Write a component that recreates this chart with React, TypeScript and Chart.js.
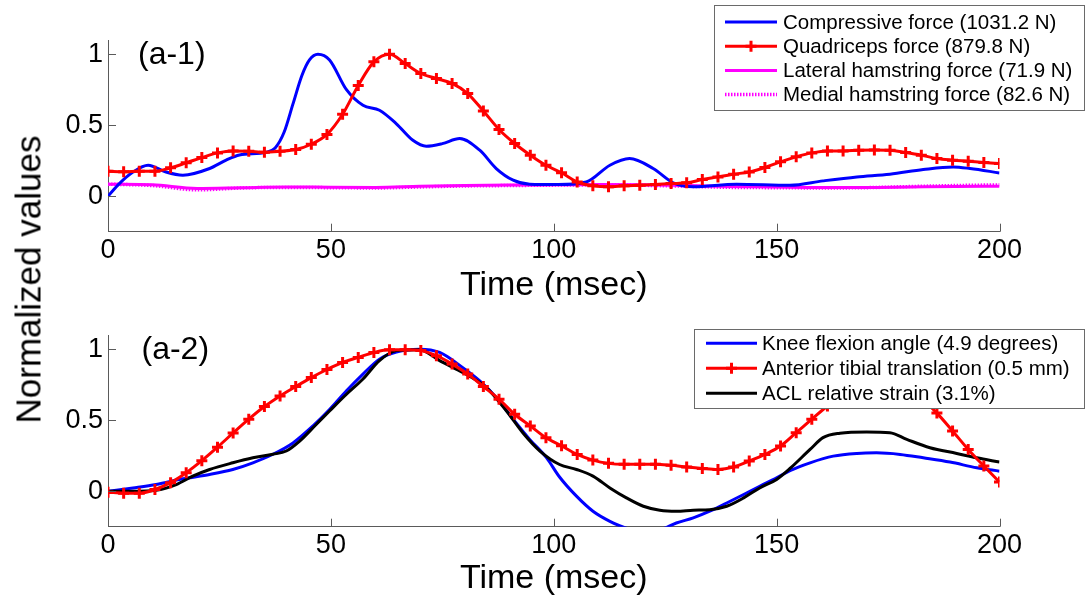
import React, { useEffect, useRef } from 'react';
import { Chart, registerables } from 'chart.js';

Chart.register(...registerables);

const FONT = '"Liberation Sans", Arial, Helvetica, sans-serif';
const AXIS_COLOR = '#5a5a5a';

// ---------- ticks ----------
const xTickValues = [0, 50, 100, 150, 200];
const yTickValues = [0, 0.5, 1];
const xTitle = 'Time (msec)';
const yTitle = 'Normalized values';

// ---------- marker times (red series) ----------
const markerTimes = [
  0, 3.51, 7.02, 10.53, 14.04, 17.54, 21.05, 24.56, 28.07, 31.58, 35.09, 38.6, 42.11, 45.61, 49.12,
  52.63, 56.14, 59.65, 63.16, 66.67, 70.18, 73.68, 77.19, 80.7, 84.21, 87.72, 91.23, 94.74, 98.25,
  101.75, 105.26, 108.77, 112.28, 115.79, 119.3, 122.81, 126.32, 129.82, 133.33, 136.84, 140.35,
  143.86, 147.37, 150.88, 154.39, 157.89, 161.4, 164.91, 168.42, 171.93, 175.44, 178.95, 182.46,
  185.96, 189.47, 192.98, 196.49, 200,
];

// ---------- panel (a-1) ----------
const compressiveLabel = 'Compressive force (1031.2 N)';
const compressiveT = [
  0, 2.6, 5.6, 9, 13, 16.8, 22.8, 26.5, 29.5, 35.5, 37.5, 39.5, 41.5, 43.5, 45.2, 47.1, 49.7, 53.5,
  57.2, 60.9, 64.7, 68.4, 71.4, 75, 78.9, 83.4, 87.1, 90.9, 94.6, 101, 107.3, 112.6, 117, 122.3,
  126.8, 131.3, 141, 153, 160.4, 168, 175.4, 182.9, 189.6, 193.4, 200,
];
const compressiveV = [
  0, 0.09, 0.17, 0.218, 0.17, 0.148, 0.195, 0.254, 0.29, 0.31, 0.34, 0.45, 0.65, 0.85, 0.96, 1.0,
  0.96, 0.75, 0.64, 0.605, 0.51, 0.394, 0.352, 0.37, 0.406, 0.324, 0.195, 0.113, 0.085, 0.082, 0.1,
  0.218, 0.265, 0.195, 0.094, 0.066, 0.085, 0.077, 0.108, 0.136, 0.155, 0.188, 0.206, 0.195, 0.164,
];

const quadricepsLabel = 'Quadriceps force (879.8 N)';
const quadricepsV = [
  0.176, 0.172, 0.176, 0.176, 0.2, 0.235, 0.272, 0.305, 0.319, 0.317, 0.31, 0.317, 0.329, 0.366,
  0.435, 0.577, 0.78, 0.946, 1.0, 0.934, 0.864, 0.829, 0.794, 0.723, 0.6, 0.47, 0.371, 0.289, 0.218,
  0.165, 0.1, 0.073, 0.066, 0.073, 0.077, 0.082, 0.089, 0.094, 0.117, 0.136, 0.155, 0.171, 0.202,
  0.242, 0.277, 0.305, 0.319, 0.319, 0.324, 0.326, 0.324, 0.308, 0.289, 0.265, 0.254, 0.246, 0.237,
  0.23,
];

const hamT = [0, 10, 20, 30, 40, 50, 60, 70, 80, 90, 100, 110, 120, 130, 140, 150, 160, 170, 180, 190, 200];
const lateralLabel = 'Lateral hamstring force (71.9 N)';
const lateralV = [
  0.085, 0.08, 0.055, 0.06, 0.065, 0.063, 0.062, 0.07, 0.075, 0.078, 0.08, 0.082, 0.08, 0.075,
  0.068, 0.065, 0.062, 0.062, 0.065, 0.068, 0.07,
];
const medialLabel = 'Medial hamstring force (82.6 N)';
const medialV = [
  0.085, 0.075, 0.045, 0.058, 0.062, 0.06, 0.058, 0.065, 0.072, 0.075, 0.078, 0.08, 0.077, 0.07,
  0.062, 0.06, 0.058, 0.06, 0.068, 0.075, 0.08,
];

// ---------- panel (a-2) ----------
const kneeLabel = 'Knee flexion angle (4.9 degrees)';
const kneeT = [
  0, 5.6, 10.8, 16.8, 22.8, 28, 32.5, 37, 41.5, 46, 49.7, 53.5, 57.2, 60.9, 64.7, 69.9, 74.4, 79.6,
  83.4, 87.1, 90.9, 94.6, 98.4, 101.3, 105.1, 108.8, 112.6, 116.3, 120.5, 124, 127.5, 131.3, 135,
  138.8, 142.6, 146.2, 150, 153, 157.5, 162.7, 168, 172.4, 177.7, 182.9, 188.9, 194.9, 200,
];
const kneeV = [
  0, 0.023, 0.047, 0.087, 0.118, 0.153, 0.2, 0.26, 0.34, 0.46, 0.575, 0.707, 0.825, 0.93, 0.98, 1.0,
  0.977, 0.87, 0.777, 0.66, 0.507, 0.365, 0.235, 0.1, -0.035, -0.141, -0.212, -0.26, -0.28, -0.27,
  -0.224, -0.188, -0.141, -0.083, -0.023, 0.035, 0.094, 0.145, 0.2, 0.247, 0.266, 0.27, 0.259,
  0.235, 0.205, 0.165, 0.141,
];

const tibialLabel = 'Anterior tibial translation (0.5 mm)';
const tibialV = [
  -0.007, -0.014, -0.014, 0.012, 0.06, 0.13, 0.215, 0.31, 0.41, 0.507, 0.596, 0.671, 0.737, 0.8,
  0.857, 0.907, 0.942, 0.977, 0.996, 0.996, 0.99, 0.954, 0.895, 0.825, 0.737, 0.648, 0.542, 0.46,
  0.377, 0.32, 0.259, 0.219, 0.196, 0.19, 0.19, 0.19, 0.182, 0.17, 0.16, 0.153, 0.17, 0.212, 0.259,
  0.318, 0.412, 0.507, 0.6, 0.68, 0.74, 0.77, 0.76, 0.72, 0.65, 0.55, 0.424, 0.294, 0.177, 0.064,
];

const aclLabel = 'ACL relative strain (3.1%)';
const aclT = [
  0, 5.6, 10.8, 15.3, 19, 22.8, 28, 32.5, 37, 40, 43, 46.7, 49.7, 53.5, 57.2, 60.9, 64.7, 69.9,
  74.4, 78.1, 81.1, 84.9, 89.4, 93.1, 96.9, 101.3, 105.1, 108.8, 112.6, 116.3, 120.1, 123.8, 127.5,
  131.3, 135, 138.8, 142.6, 146.2, 150, 153, 157.5, 160.4, 164.2, 170.2, 175.4, 179.2, 184.4,
  190.4, 194.9, 200,
];
const aclV = [
  0, 0, 0.007, 0.047, 0.106, 0.153, 0.2, 0.235, 0.26, 0.283, 0.353, 0.47, 0.565, 0.683, 0.79, 0.92,
  0.99, 0.997, 0.92, 0.86, 0.81, 0.73, 0.565, 0.41, 0.283, 0.188, 0.153, 0.106, 0.023, -0.047,
  -0.106, -0.134, -0.141, -0.134, -0.13, -0.106, -0.047, 0.023, 0.083, 0.16, 0.294, 0.377, 0.408,
  0.417, 0.412, 0.365, 0.306, 0.266, 0.235, 0.205,
];

const pts = (t: number[], v: number[]) => t.map((x, i) => ({ x, y: v[i] }));

type LegendCfg = {
  box: [number, number, number, number];
  rows: number[];
  sx1: number;
  sx2: number;
  tx: number;
};

type PanelCfg = {
  tag: string;
  tagX: number;
  tagY: number;
  legend: LegendCfg;
  padTop: number;
  xHeight: number;
};

function lineDs(label: string, data: any[], color: string, order: number, extra: any = {}) {
  return {
    label,
    data,
    borderColor: color,
    backgroundColor: color,
    borderWidth: 3,
    pointRadius: 0,
    cubicInterpolationMode: 'monotone',
    fill: false,
    order,
    ...extra,
  };
}

function makePanelPlugin(cfg: PanelCfg) {
  return {
    id: 'panelDecor',
    afterDraw(chart: any) {
      const ctx: CanvasRenderingContext2D = chart.ctx;
      const { left, bottom } = chart.chartArea;
      const xs = chart.scales.x;
      const ys = chart.scales.y;
      ctx.save();
      // inner ticks
      ctx.strokeStyle = AXIS_COLOR;
      ctx.lineWidth = 1;
      ctx.beginPath();
      xTickValues.forEach((v) => {
        if (v === xs.min) return;
        const px = Math.round(xs.getPixelForValue(v)) + 0.5;
        ctx.moveTo(px, bottom);
        ctx.lineTo(px, bottom - 8);
      });
      yTickValues.forEach((v) => {
        const py = Math.round(ys.getPixelForValue(v)) + 0.5;
        ctx.moveTo(left, py);
        ctx.lineTo(left + 8, py);
      });
      ctx.stroke();

      // panel tag
      ctx.fillStyle = '#000';
      ctx.font = `32px ${FONT}`;
      ctx.textBaseline = 'middle';
      ctx.textAlign = 'left';
      ctx.fillText(cfg.tag, cfg.tagX, cfg.tagY);

      // legend
      const L = cfg.legend;
      const [bx1, by1, bx2, by2] = L.box;
      ctx.fillStyle = '#fff';
      ctx.fillRect(bx1, by1, bx2 - bx1, by2 - by1);
      ctx.strokeStyle = '#6a6a6a';
      ctx.lineWidth = 1;
      ctx.strokeRect(bx1, by1, bx2 - bx1, by2 - by1);
      const datasets = chart.data.datasets;
      datasets.forEach((ds: any, i: number) => {
        const y = L.rows[i];
        ctx.save();
        ctx.strokeStyle = ds.borderColor;
        ctx.lineWidth = ds.borderWidth;
        ctx.setLineDash(ds.borderDash || []);
        ctx.beginPath();
        ctx.moveTo(L.sx1, y);
        ctx.lineTo(L.sx2, y);
        ctx.stroke();
        ctx.setLineDash([]);
        if (ds.pointRadius > 0) {
          const cx = (L.sx1 + L.sx2) / 2;
          const r = ds.pointRadius;
          ctx.lineWidth = ds.pointBorderWidth;
          ctx.beginPath();
          ctx.moveTo(cx, y - r);
          ctx.lineTo(cx, y + r);
          ctx.moveTo(cx - r, y);
          ctx.lineTo(cx + r, y);
          ctx.stroke();
        }
        ctx.restore();
        ctx.fillStyle = '#000';
        ctx.font = `20.5px ${FONT}`;
        ctx.textBaseline = 'middle';
        ctx.textAlign = 'left';
        ctx.fillText(ds.label, L.tx, y + 1);
      });
      ctx.restore();
    },
  };
}

function makeOptions(cfg: PanelCfg) {
  return {
    responsive: false,
    animation: false as const,
    events: [] as any[],
    devicePixelRatio: 1,
    layout: { padding: { top: cfg.padTop, right: 86.5, left: 0, bottom: 0 } },
    plugins: { legend: { display: false }, tooltip: { enabled: false }, title: { display: false } },
    scales: {
      x: {
        type: 'linear' as const,
        min: 0,
        max: 200,
        grid: { display: false, drawTicks: false },
        border: { display: true, color: AXIS_COLOR, width: 1 },
        ticks: {
          color: '#000',
          font: { family: FONT, size: 27, lineHeight: 1 },
          padding: 5,
          maxRotation: 0,
        },
        title: {
          display: true,
          text: xTitle,
          color: '#000',
          font: { family: FONT, size: 34 },
          padding: { top: 0, bottom: 2.5 },
        },
        afterBuildTicks: (scale: any) => {
          scale.ticks = xTickValues.map((v) => ({ value: v }));
        },
        afterFit: (scale: any) => {
          scale.height = cfg.xHeight;
        },
      },
      y: {
        type: 'linear' as const,
        min: -0.25,
        max: 1.1,
        grid: { display: false, drawTicks: false },
        border: { display: true, color: AXIS_COLOR, width: 1 },
        ticks: {
          color: '#000',
          font: { family: FONT, size: 27 },
          padding: 5,
          callback: (v: any) => String(v),
        },
        afterBuildTicks: (scale: any) => {
          scale.ticks = yTickValues.map((v) => ({ value: v }));
        },
        afterFit: (scale: any) => {
          scale.width = 108;
        },
      },
    },
  };
}

const topCfg: PanelCfg = {
  tag: '(a-1)',
  tagX: 138,
  tagY: 55,
  legend: { box: [714.5, 5.5, 1084.5, 110.5], rows: [22, 46.3, 70.5, 94.5], sx1: 725, sx2: 777, tx: 783 },
  padTop: 40,
  xHeight: 77.3,
};

const bottomCfg: PanelCfg = {
  tag: '(a-2)',
  tagX: 141.5,
  tagY: 41,
  legend: { box: [694.5, 20.5, 1084.5, 99.5], rows: [34.3, 59.3, 84.3], sx1: 706, sx2: 757, tx: 762 },
  padTop: 26,
  xHeight: 75.3,
};

export default function App() {
  const topRef = useRef<HTMLCanvasElement>(null);
  const botRef = useRef<HTMLCanvasElement>(null);

  useEffect(() => {
    const redExtra = {
      pointRadius: 5.5,
      pointStyle: 'cross',
      pointBorderWidth: 3,
      pointBorderColor: '#ff0000',
      pointBackgroundColor: '#ff0000',
    };
    const top = new Chart(topRef.current as HTMLCanvasElement, {
      type: 'line',
      data: {
        datasets: [
          lineDs(compressiveLabel, pts(compressiveT, compressiveV), '#0000ff', 1),
          lineDs(quadricepsLabel, pts(markerTimes, quadricepsV), '#ff0000', 0, redExtra),
          lineDs(lateralLabel, pts(hamT, lateralV), '#ff00ff', 3),
          lineDs(medialLabel, pts(hamT, medialV), '#ff00ff', 2, { borderDash: [1.5, 1.5], borderWidth: 3.5 }),
        ] as any,
      },
      options: makeOptions(topCfg) as any,
      plugins: [makePanelPlugin(topCfg)],
    });
    const bot = new Chart(botRef.current as HTMLCanvasElement, {
      type: 'line',
      data: {
        datasets: [
          lineDs(kneeLabel, pts(kneeT, kneeV), '#0000ff', 2),
          lineDs(tibialLabel, pts(markerTimes, tibialV), '#ff0000', 0, redExtra),
          lineDs(aclLabel, pts(aclT, aclV), '#000000', 1),
        ] as any,
      },
      options: makeOptions(bottomCfg) as any,
      plugins: [makePanelPlugin(bottomCfg)],
    });
    return () => {
      top.destroy();
      bot.destroy();
    };
  }, []);

  return (
    <div style={{ position: 'absolute', left: 0, top: 0, width: 1086, height: 602, background: '#fff', overflow: 'hidden' }}>
      <canvas ref={topRef} width={1086} height={309} style={{ position: 'absolute', left: 0, top: 0, display: 'block' }} />
      <canvas ref={botRef} width={1086} height={293} style={{ position: 'absolute', left: 0, top: 309, display: 'block' }} />
      <div
        style={{
          position: 'absolute',
          left: 28 - 250,
          top: 279 - 17.5,
          width: 500,
          height: 35,
          lineHeight: '35px',
          fontSize: 35,
          fontFamily: FONT,
          color: '#000',
          textAlign: 'center',
          transform: 'rotate(-90deg)',
          whiteSpace: 'nowrap',
        }}
      >
        {yTitle}
      </div>
    </div>
  );
}
